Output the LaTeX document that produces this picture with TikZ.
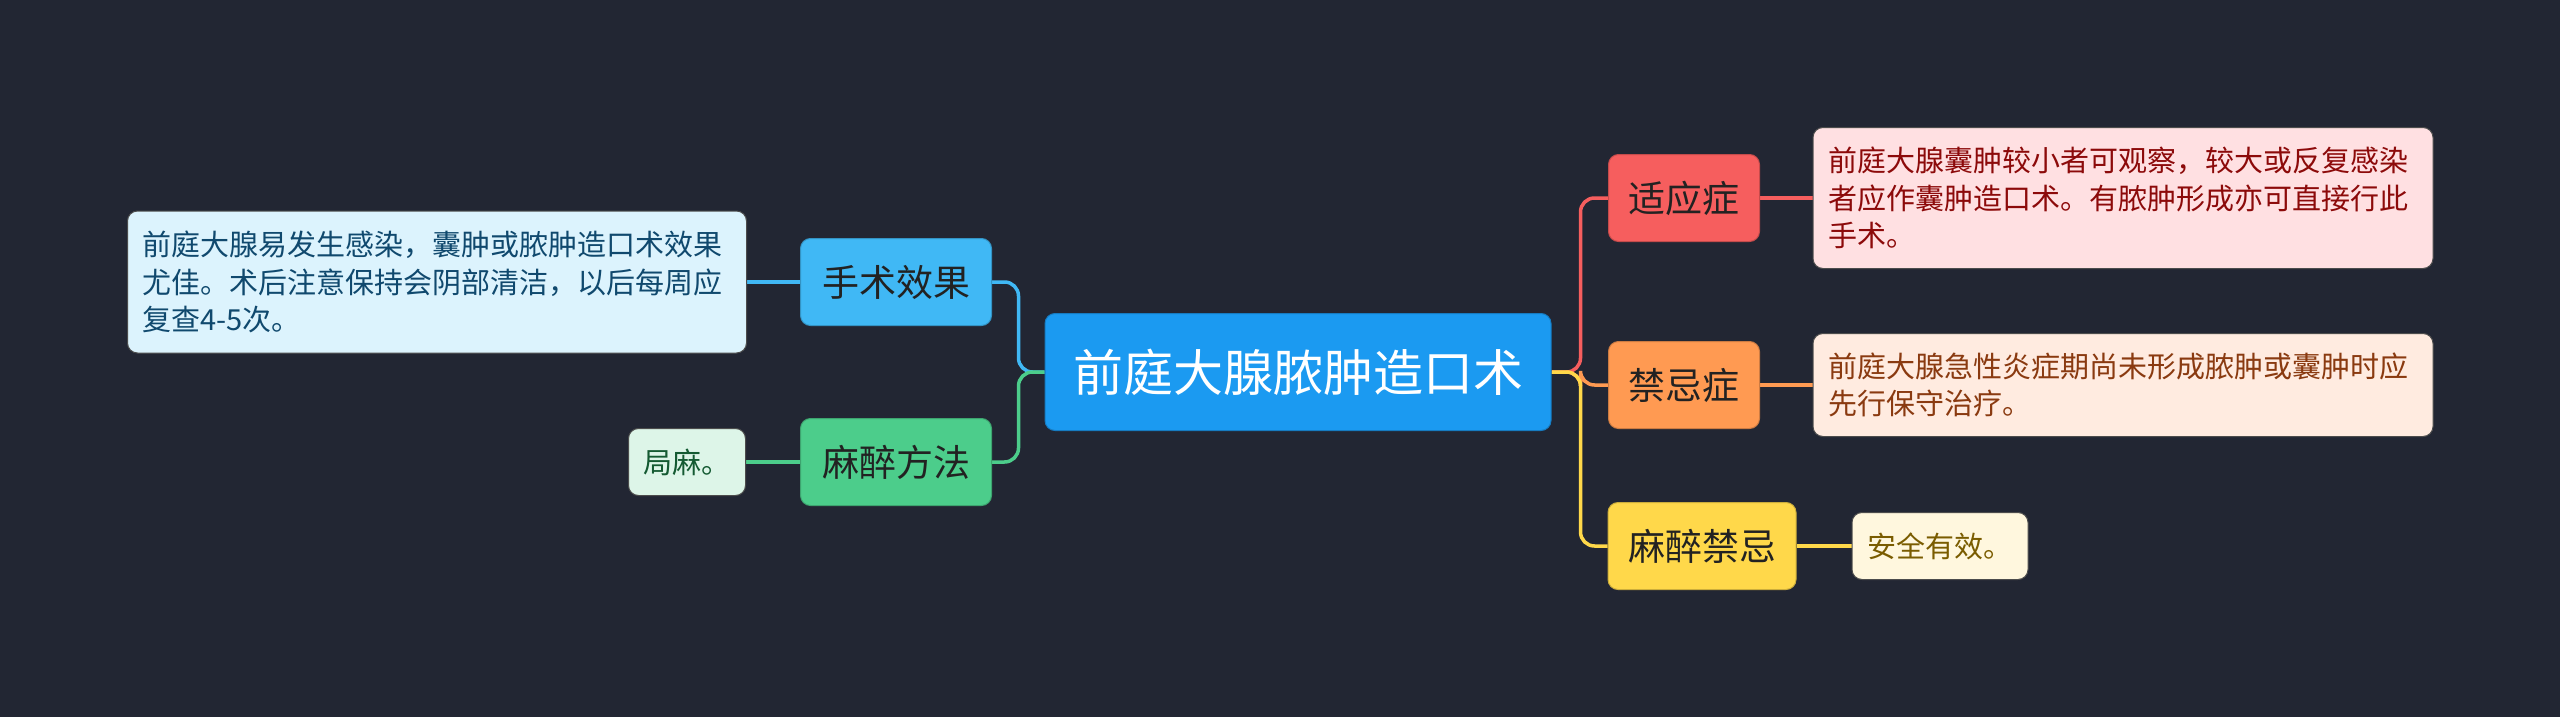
\documentclass[tikz,border=0pt]{standalone}
\usepackage{fontspec}
\setmainfont{Noto Sans CJK SC}
\usetikzlibrary{backgrounds}
\definecolor{bg}{HTML}{222633}
\definecolor{cmain}{HTML}{1B9AF1}
\definecolor{cblue}{HTML}{40B8F5}
\definecolor{cgreen}{HTML}{4CCD8B}
\definecolor{cred}{HTML}{F65E5E}
\definecolor{corange}{HTML}{FF9A52}
\definecolor{cyellow}{HTML}{FFD84A}
\definecolor{lblue}{HTML}{DCF3FD}
\definecolor{tblue}{HTML}{10496E}
\definecolor{lgreen}{HTML}{DDF5E8}
\definecolor{tgreen}{HTML}{145A32}
\definecolor{lpink}{HTML}{FFE0E2}
\definecolor{tpink}{HTML}{8C0A0A}
\definecolor{lpeach}{HTML}{FFEBE0}
\definecolor{tpeach}{HTML}{8A3A10}
\definecolor{lcream}{HTML}{FFF7DE}
\definecolor{tcream}{HTML}{7A5C00}
\definecolor{tdark}{HTML}{222222}
\tikzset{
  mainbox/.style={rounded corners=10pt, fill=cmain, draw=cmain!80!black, line width=1pt, text=white,
    minimum width=506pt, minimum height=117pt, inner sep=0pt, font=\fontsize{50pt}{60pt}\selectfont},
  branch/.style={rounded corners=10pt, line width=1pt, text=tdark, minimum height=87pt, inner sep=0pt,
    font=\fontsize{37pt}{44pt}\selectfont},
  leaf/.style={rounded corners=10pt, line width=1pt, draw=black!70, inner xsep=15pt, inner ysep=0pt,
    align=left, font=\fontsize{29pt}{37.6pt}\selectfont},
  conn/.style={line width=3.5pt, rounded corners=14pt},
}
\begin{document}
\begin{tikzpicture}[x=1pt,y=-1pt]
\useasboundingbox (0,0) rectangle (2560,717);
% central
\node[mainbox] (c) at (1298,372) {前庭大腺脓肿造口术};
% left branches
\node[branch, fill=cblue, draw=cblue!80!black, minimum width=191pt] (s1) at (896,282) {手术效果};
\node[branch, fill=cgreen, draw=cgreen!80!black, minimum width=191pt] (s2) at (896,462) {麻醉方法};
% right branches
\node[branch, fill=cred, draw=cred!80!black, minimum width=151pt] (r1) at (1684,198) {适应症};
\node[branch, fill=corange, draw=corange!80!black, minimum width=151pt] (r2) at (1684,385) {禁忌症};
\node[branch, fill=cyellow, draw=cyellow!80!black, minimum width=188pt] (r3) at (1702,546) {麻醉禁忌};
% leaves
\node[leaf, fill=lblue, text=tblue, text width=589pt, minimum height=142pt] (l1) at (437,282)
  {前庭大腺易发生感染，囊肿或脓肿造口术效果\\尤佳。术后注意保持会阴部清洁，以后每周应\\复查4-5次。};
\node[leaf, fill=lgreen, text=tgreen, minimum height=67pt, minimum width=117pt] (l2) at (687,462) {局麻。};
\node[leaf, fill=lpink, text=tpink, text width=590pt, minimum height=141pt] (q1) at (2123,198)
  {前庭大腺囊肿较小者可观察，较大或反复感染\\者应作囊肿造口术。有脓肿形成亦可直接行此\\手术。};
\node[leaf, fill=lpeach, text=tpeach, text width=590pt, minimum height=103pt] (q2) at (2123,385)
  {前庭大腺急性炎症期尚未形成脓肿或囊肿时应\\先行保守治疗。};
\node[leaf, fill=lcream, text=tcream, minimum height=67pt, minimum width=176pt] (q3) at (1940,546) {安全有效。};
% background and connectors
\begin{scope}[on background layer]
\fill[bg] (0,0) rectangle (2560,717);
\draw[conn, cblue] (c.west) -- ([xshift=-26pt]c.west) |- (s1.east);
\draw[conn, cgreen] (c.west) -- ([xshift=-26pt]c.west) |- (s2.east);
\draw[conn, cred] (c.east) -- ([xshift=29pt]c.east) |- (r1.west);
\draw[conn, corange] (c.east) -- ([xshift=29pt]c.east) |- (r2.west);
\draw[conn, cyellow] (c.east) -- ([xshift=29pt]c.east) |- (r3.west);
\draw[conn, cblue] (s1.west) -- (l1.east);
\draw[conn, cgreen] (s2.west) -- (l2.east);
\draw[conn, cred] (r1.east) -- (q1.west);
\draw[conn, corange] (r2.east) -- (q2.west);
\draw[conn, cyellow] (r3.east) -- (q3.west);
\end{scope}
\end{tikzpicture}
\end{document}
